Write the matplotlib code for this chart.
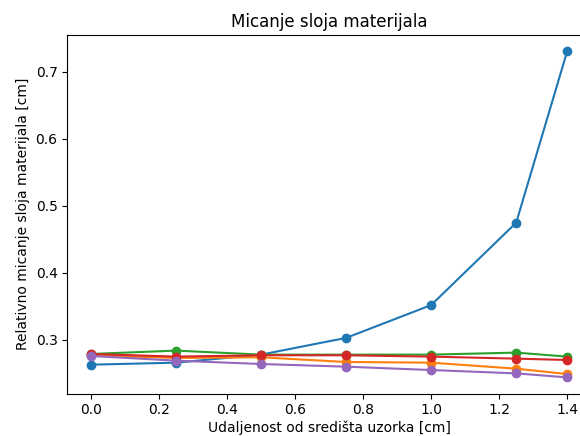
import matplotlib
matplotlib.use("Agg")
import matplotlib.pyplot as plt

udaljenost = [0.0, 0.25, 0.5, 0.75, 1.0, 1.25, 1.4]

serija_1 = [0.263, 0.266, 0.278, 0.303, 0.352, 0.475, 0.731]
serija_2 = [0.277, 0.273, 0.274, 0.267, 0.266, 0.257, 0.249]
serija_3 = [0.279, 0.284, 0.278, 0.278, 0.278, 0.281, 0.275]
serija_4 = [0.279, 0.275, 0.277, 0.277, 0.275, 0.272, 0.270]
serija_5 = [0.276, 0.269, 0.264, 0.260, 0.255, 0.250, 0.244]

fig = plt.figure(figsize=(5.8, 4.36), dpi=100)
# the reference is cropped on the right, so the axes run past the edge
ax = fig.add_axes([0.116, 0.097, 0.903, 0.823])

for s in (serija_1, serija_2, serija_3, serija_4, serija_5):
    ax.plot(udaljenost, s, marker="o")

ax.set_title("Micanje sloja materijala")
ax.set_xlabel("Udaljenost od središta uzorka [cm]", labelpad=2)
ax.set_ylabel("Relativno micanje sloja materijala [cm]")

fig.savefig("out.png", dpi=100)
